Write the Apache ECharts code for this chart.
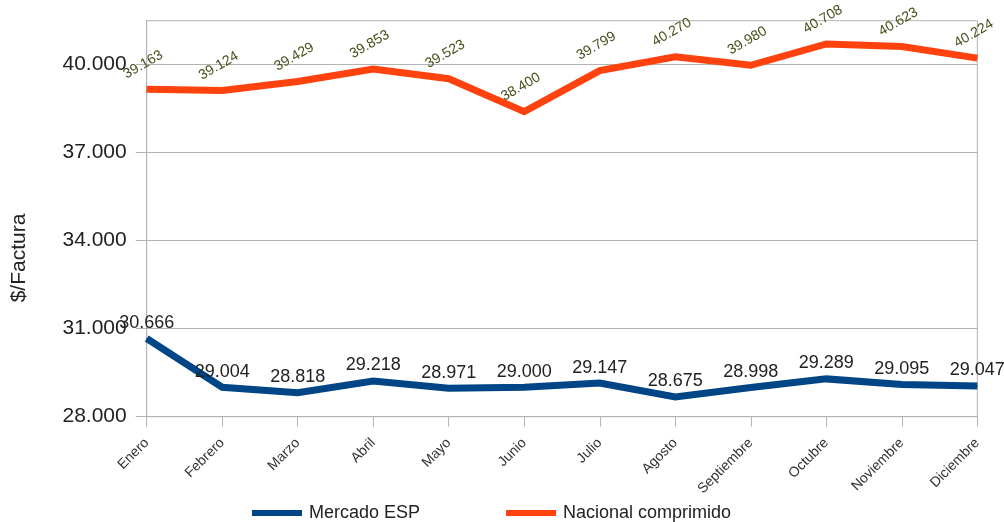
<!DOCTYPE html>
<html>
<head>
<meta charset="utf-8">
<script src="https://cdn.jsdelivr.net/npm/echarts@6/dist/echarts.min.js"></script>
<style>
  html, body { margin: 0; padding: 0; background: #fff; }
  #chart { width: 1004px; height: 522px; }
</style>
</head>
<body>
<div id="chart"></div>
<script>
// Monthly invoice values ($/Factura) for two markets
const months = ['Enero', 'Febrero', 'Marzo', 'Abril', 'Mayo', 'Junio', 'Julio',
                'Agosto', 'Septiembre', 'Octubre', 'Noviembre', 'Diciembre'];
const mercadoEsp = [30666, 29004, 28818, 29218, 28971, 29000, 29147, 28675, 28998, 29289, 29095, 29047];
const nacionalComprimido = [39163, 39124, 39429, 39853, 39523, 38400, 39799, 40270, 39980, 40708, 40623, 40224];
const yTicks = [28000, 31000, 34000, 37000, 40000];

// Spanish-style thousands separator: 39163 -> "39.163"
function fmt(v) {
  return String(Math.round(v)).replace(/\B(?=(\d{3})+(?!\d))/g, '.');
}

const FONT = '"Liberation Sans", Arial, sans-serif';
const chart = echarts.init(document.getElementById('chart'), null, { renderer: 'canvas' });

chart.setOption({
  animation: false,
  backgroundColor: '#ffffff',
  textStyle: { fontFamily: FONT },
  grid: {
    left: 146.7, right: 26.7, top: 20.7, bottom: 105.3,
    show: true, borderColor: '#b3b3b3', borderWidth: 1, backgroundColor: 'transparent'
  },
  graphic: [{
    type: 'text',
    x: 19, y: 258,
    rotation: Math.PI / 2,
    style: {
      text: '$/Factura',
      font: '21px "Liberation Sans", Arial, sans-serif',
      fill: '#222',
      align: 'center',
      verticalAlign: 'middle'
    }
  }],
  legend: {
    top: 504, left: 252,
    padding: 0,
    itemGap: 86,
    itemWidth: 50, itemHeight: 6,
    icon: 'rect',
    textStyle: { fontFamily: FONT, fontSize: 18, color: '#222', padding: [0, 0, 0, 2] },
    data: ['Mercado ESP', 'Nacional comprimido']
  },
  xAxis: {
    type: 'category',
    data: months,
    boundaryGap: false,
    axisLine: { lineStyle: { color: '#b3b3b3', width: 1 } },
    axisTick: { show: true, length: 10, lineStyle: { color: '#b3b3b3' } },
    splitLine: { show: false },
    axisLabel: {
      interval: 0, rotate: 45, margin: 24,
      fontFamily: FONT, fontSize: 14, color: '#333'
    }
  },
  yAxis: {
    type: 'value',
    min: 28000, max: 41500, interval: 3000,
    axisLine: { show: true, lineStyle: { color: '#b3b3b3', width: 1 } },
    axisTick: { show: true, length: 11, customValues: yTicks, lineStyle: { color: '#b3b3b3' } },
    splitLine: { show: true, lineStyle: { color: '#b3b3b3', width: 1 } },
    axisLabel: {
      customValues: yTicks,
      margin: 20,
      fontFamily: FONT, fontSize: 21, color: '#222',
      formatter: fmt
    }
  },
  series: [
    {
      name: 'Mercado ESP',
      type: 'line',
      data: mercadoEsp,
      color: '#004586',
      lineStyle: { width: 7, color: '#004586', join: 'miter' },
      showSymbol: true, symbol: 'circle', symbolSize: 1,
      itemStyle: { color: '#004586' },
      label: {
        show: true, position: 'top', distance: 6,
        fontFamily: FONT, fontSize: 18, color: '#222',
        formatter: p => fmt(p.value)
      },
      labelLayout: { hideOverlap: false },
      z: 3
    },
    {
      name: 'Nacional comprimido',
      type: 'line',
      data: nacionalComprimido,
      color: '#ff420e',
      lineStyle: { width: 7, color: '#ff420e', join: 'miter' },
      showSymbol: true, symbol: 'circle', symbolSize: 1,
      itemStyle: { color: '#ff420e' },
      label: {
        show: true, position: 'top', distance: 18, rotate: 30, offset: [3, 0],
        fontFamily: FONT, fontSize: 14, color: '#435219',
        formatter: p => fmt(p.value)
      },
      labelLayout: { hideOverlap: false },
      z: 3
    }
  ]
});
</script>
</body>
</html>
